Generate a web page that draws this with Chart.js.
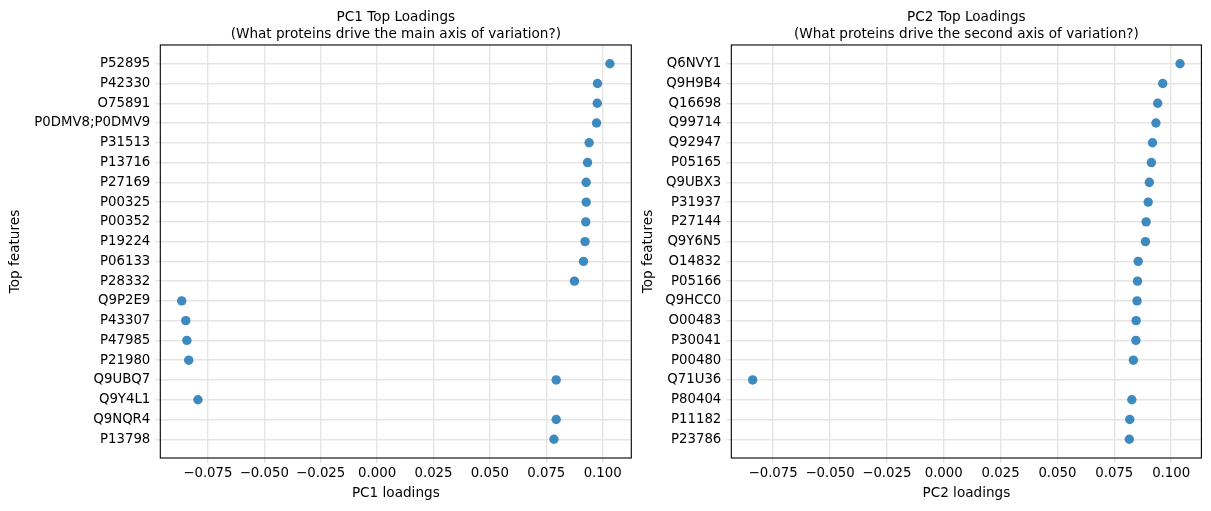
<!DOCTYPE html>
<html><head><meta charset="utf-8">
<script src="https://cdn.jsdelivr.net/npm/chart.js@4.4.0/dist/chart.umd.min.js"></script>
<style>
html,body{margin:0;padding:0;background:#fff;}
#wrap{position:relative;width:1211px;height:511px;overflow:hidden;background:#fff;}
.box{position:absolute;top:0;height:511px;}
</style></head><body>
<div id="wrap">
<div class="box" style="left:0;width:633px"><canvas id="c1" width="633" height="511" style="width:633px;height:511px"></canvas></div>
<div class="box" style="left:633px;width:578px"><canvas id="c2" width="578" height="511" style="width:578px;height:511px"></canvas></div>
</div>
<script>
// ---- data ----
const pc1Proteins = ["P52895","P42330","O75891","P0DMV8;P0DMV9","P31513","P13716","P27169","P00325","P00352","P19224","P06133","P28332","Q9P2E9","P43307","P47985","P21980","Q9UBQ7","Q9Y4L1","Q9NQR4","P13798"];
const pc1Loadings = [0.1032,0.0977,0.0976,0.0973,0.0940,0.0933,0.0927,0.0927,0.0925,0.0922,0.0915,0.0875,-0.0866,-0.0848,-0.0843,-0.0835,0.0794,-0.0794,0.0794,0.0784];
const pc2Proteins = ["Q6NVY1","Q9H9B4","Q16698","Q99714","Q92947","P05165","Q9UBX3","P31937","P27144","Q9Y6N5","O14832","P05166","Q9HCC0","O00483","P30041","P00480","Q71U36","P80404","P11182","P23786"];
const pc2Loadings = [0.1039,0.0963,0.0941,0.0933,0.0918,0.0913,0.0904,0.0899,0.0890,0.0887,0.0855,0.0852,0.0850,0.0846,0.0845,0.0834,-0.0840,0.0827,0.0818,0.0816];
const xTickValues = [-0.075,-0.050,-0.025,0.000,0.025,0.050,0.075,0.100];
const pc1Title = ["PC1 Top Loadings","(What proteins drive the main axis of variation?)"];
const pc2Title = ["PC2 Top Loadings","(What proteins drive the second axis of variation?)"];
const pc1XLabel = "PC1 loadings";
const pc2XLabel = "PC2 loadings";
const yLabel = "Top features";

Chart.defaults.font.family = "'DejaVu Sans', sans-serif";
Chart.defaults.color = "#000";

const FONT_TICK = 13.3, FONT_TITLE = 13.6;
const GRID = "#e5e5e5";

const framePlugin = {
  id: 'frame',
  afterDatasetsDraw(chart) {
    const {ctx, chartArea: a} = chart;
    ctx.save();
    ctx.strokeStyle = '#000';
    ctx.lineWidth = 1.1;
    ctx.strokeRect(a.left, a.top, a.right - a.left, a.bottom - a.top);
    ctx.restore();
  }
};

function fmt(v) {
  const s = (Math.abs(v) < 1e-12 ? 0 : v).toFixed(3);
  return s.replace('-', '\u2212');
}

function pad(values) {
  const mn = Math.min(...values), mx = Math.max(...values);
  const m = (mx - mn) * 0.05;
  return [mn - m, mx + m];
}

function makeChart(id, proteins, loadings, titleLines, xLabel, yWidth, rightPad) {
  const [xMin, xMax] = pad(loadings);
  const n = proteins.length;
  return new Chart(document.getElementById(id), {
    type: 'scatter',
    data: {
      datasets: [{
        data: loadings.map((v, i) => ({x: v, y: i})),
        backgroundColor: 'rgba(31,119,180,0.86)',
        borderWidth: 0,
        pointRadius: 4.7,
        pointHoverRadius: 4.7
      }]
    },
    options: {
      responsive: false,
      animation: false,
      layout: {autoPadding: false, padding: {left: 0, right: rightPad, top: 0, bottom: 0}},
      plugins: {
        legend: {display: false},
        tooltip: {enabled: false},
        title: {
          display: true,
          text: titleLines,
          fullSize: false,
          color: '#000',
          font: {size: FONT_TITLE, weight: 'normal', lineHeight: 1.26},
          padding: {top: 9, bottom: 1.7}
        }
      },
      scales: {
        x: {
          type: 'linear',
          min: xMin, max: xMax,
          afterBuildTicks: s => { s.ticks = xTickValues.map(v => ({value: v})); },
          afterFit: s => { s.height = 53; s.paddingLeft = 0; s.paddingRight = 0; },
          ticks: {
            callback: v => fmt(v),
            font: {size: FONT_TICK},
            color: '#000',
            padding: 3,
            autoSkip: false, maxRotation: 0
          },
          grid: {color: GRID, lineWidth: 1.4, tickLength: 5, drawTicks: true, tickColor: GRID},
          border: {display: false},
          title: {display: true, text: xLabel, color: '#000', font: {size: FONT_TITLE}, padding: {top: 0, bottom: 9}}
        },
        y: {
          type: 'linear',
          reverse: true,
          min: -0.95, max: n - 1 + 0.95,
          afterBuildTicks: s => { s.ticks = proteins.map((p, i) => ({value: i})); },
          afterFit: s => { s.width = yWidth; s.paddingTop = 0; s.paddingBottom = 0; },
          ticks: {
            callback: v => proteins[v],
            font: {size: FONT_TICK},
            color: '#000',
            padding: 5,
            autoSkip: false
          },
          grid: {color: GRID, lineWidth: 1.4, tickLength: 5, drawTicks: true, tickColor: GRID},
          border: {display: false},
          title: {display: true, text: yLabel, color: '#000', font: {size: FONT_TITLE}, padding: {top: 7, bottom: 0}}
        }
      }
    },
    plugins: [framePlugin]
  });
}

makeChart('c1', pc1Proteins, pc1Loadings, pc1Title, pc1XLabel, 160.3, 1.7);
makeChart('c2', pc2Proteins, pc2Loadings, pc2Title, pc2XLabel, 98.3, 9.6);
</script>
</body></html>
